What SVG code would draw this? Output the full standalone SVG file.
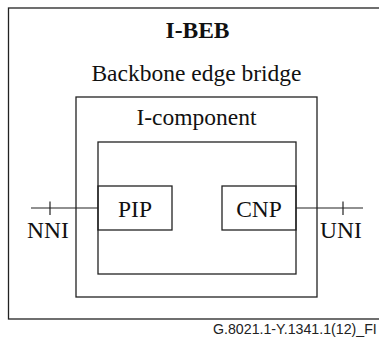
<svg xmlns="http://www.w3.org/2000/svg" width="379" height="345" viewBox="0 0 379 345">
<style>
.box{fill:none;stroke:#222;stroke-width:1.3}
.ln{fill:none;stroke:#222;stroke-width:1.2}
.t{font-family:"Liberation Serif","Times New Roman",serif;font-size:23.5px;fill:#111;text-anchor:middle}
.b{font-weight:bold}
.f{font-family:"Liberation Sans",Arial,sans-serif;font-size:14.2px;fill:#222}
</style>
<rect width="379" height="345" fill="#fff"/>
<g id="ibeb">
<rect class="box" x="8.5" y="8" width="380" height="311"/>
<text class="t b" x="197.5" y="38">I-BEB</text>
<text class="t" x="196.5" y="81">Backbone edge bridge</text>
</g>
<g id="icomponent">
<rect class="box" x="76" y="97" width="241" height="200"/>
<text class="t" x="196.5" y="125">I-component</text>
</g>
<g id="inner">
<rect class="box" x="98" y="142" width="198" height="132"/>
</g>
<g id="pip">
<rect class="box" x="98" y="186" width="74" height="44"/>
<text class="t" x="135" y="217">PIP</text>
</g>
<g id="cnp">
<rect class="box" x="222" y="186" width="74" height="44"/>
<text class="t" x="259" y="217">CNP</text>
</g>
<g id="nni">
<text class="t" x="48" y="238">NNI</text>
</g>
<g id="uni">
<text class="t" x="341" y="238">UNI</text>
</g>
<g id="connectors">
<line class="ln" x1="31" y1="208" x2="98" y2="208"/>
<line class="ln" x1="50" y1="201.5" x2="50" y2="215"/>
<line class="ln" x1="296" y1="208" x2="363" y2="208"/>
<line class="ln" x1="343" y1="201.5" x2="343" y2="215"/>
</g>
<text class="f" x="213" y="334">G.8021.1-Y.1341.1(12)_FI</text>
</svg>
